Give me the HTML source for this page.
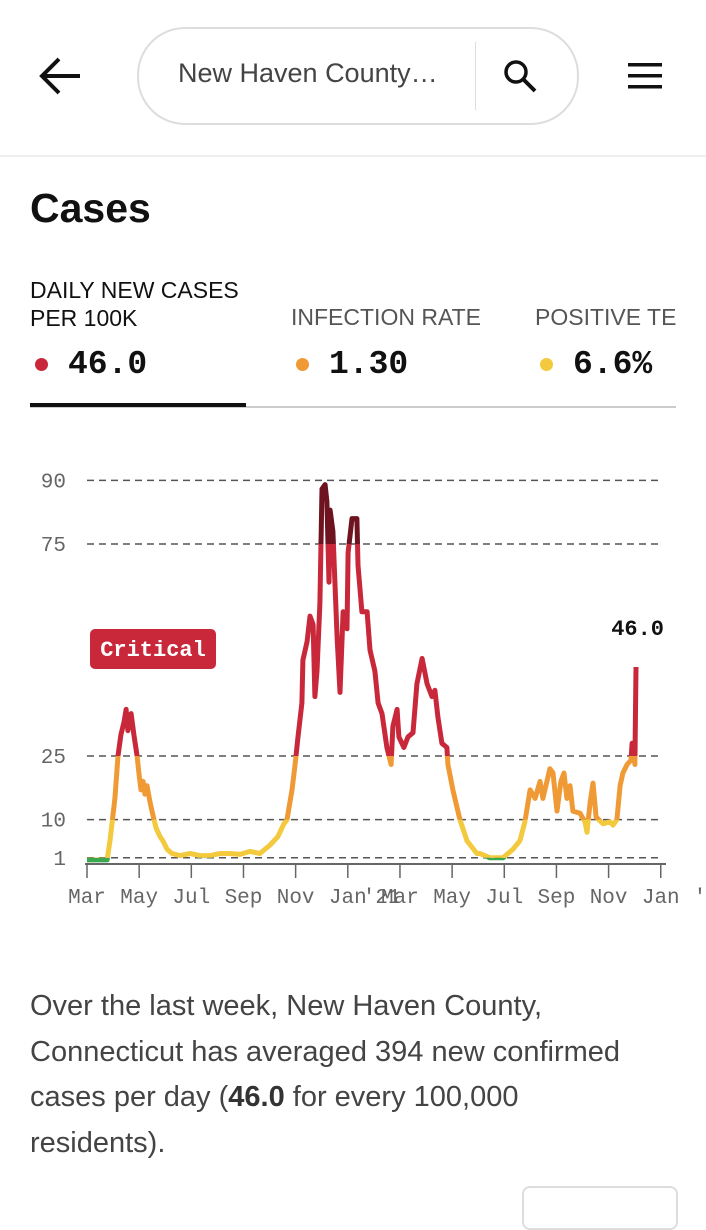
<!DOCTYPE html>
<html><head><meta charset="utf-8">
<style>
body{margin:0;width:706px;height:1200px;background:#fff;position:relative;overflow:hidden;font-family:"Liberation Sans",sans-serif;}
.a{position:absolute;white-space:nowrap;}
.lbl{font-size:23px;color:#111;}
.val{font-family:"Liberation Mono",monospace;font-weight:bold;font-size:33px;color:#111;}
.dot{position:absolute;width:13px;height:13px;border-radius:50%;}
.p{font-size:29px;color:#444;}
</style></head><body>
<div class="a" style="left:0;top:0;width:706px;height:155px;border-bottom:2px solid #eee;"></div>
<svg class="a" style="left:38px;top:56px" width="44" height="40" viewBox="0 0 44 40"><path d="M42 20H5M21 3L4 20L21 37" stroke="#111" stroke-width="4" fill="none"/></svg>
<div class="a" style="left:137px;top:27px;width:438px;height:94px;border:2px solid #ddd;border-radius:48px;"></div>
<div class="a" style="left:178px;top:58px;font-size:27px;color:#444;">New Haven County…</div>
<div class="a" style="left:475px;top:42px;width:1px;height:68px;background:#ddd;"></div>
<svg class="a" style="left:502px;top:58px" width="36" height="36" viewBox="0 0 36 36"><circle cx="14" cy="14" r="10" stroke="#111" stroke-width="3.5" fill="none"/><path d="M21 21L33 33" stroke="#111" stroke-width="4"/></svg>
<svg class="a" style="left:628px;top:63px" width="36" height="26"><rect y="0" width="34" height="3.5" fill="#111"/><rect y="11" width="34" height="3.5" fill="#111"/><rect y="22" width="34" height="3.5" fill="#111"/></svg>
<div class="a" style="left:30px;top:185px;font-size:41px;font-weight:bold;color:#111;">Cases</div>

<div class="a" style="left:30px;top:276px;width:216px;height:128px;">
<div class="a lbl" style="left:0;top:0;line-height:28px;">DAILY NEW CASES<br>PER 100K</div>
<div class="dot" style="left:5px;top:82px;background:#c8283a"></div>
<div class="a val" style="left:38px;top:70px;">46.0</div></div>
<div class="a" style="left:291px;top:276px;width:230px;height:128px;">
<div class="a lbl" style="left:0;top:28px;color:#555;">INFECTION RATE</div>
<div class="dot" style="left:5px;top:82px;background:#f09a36"></div>
<div class="a val" style="left:38px;top:70px;">1.30</div></div>
<div class="a" style="left:535px;top:276px;width:141px;height:128px;overflow:hidden;">
<div class="a lbl" style="left:0;top:28px;color:#555;">POSITIVE TESTS</div>
<div class="dot" style="left:5px;top:82px;background:#f3c93d"></div>
<div class="a val" style="left:38px;top:70px;">6.6%</div></div>
<div class="a" style="left:30px;top:406px;width:646px;height:2px;background:#ccc;"></div>
<div class="a" style="left:30px;top:403px;width:216px;height:4px;background:#111;"></div>

<svg class="a" id="chart" style="left:0;top:440px" width="706" height="480"></svg>

<div class="a p" style="left:30px;top:984px;line-height:45.5px;">Over the last week, New Haven County,<br>Connecticut has averaged 394 new confirmed<br>cases per day (<b style="color:#333">46.0</b> for every 100,000<br>residents).</div>
<div class="a" style="left:522px;top:1186px;width:152px;height:40px;border:2px solid #ddd;border-radius:8px;"></div>

<script>
const months=[0,0.77,0.88,1.07,1.19,1.30,1.42,1.50,1.57,1.69,1.80,1.92,1.99,2.07,2.15,2.22,2.30,2.42,2.53,2.65,2.80,2.91,3.07,3.26,3.57,3.95,4.33,4.72,5.10,5.48,5.87,6.25,6.63,7.02,7.32,7.55,
7.67,7.86,7.98,8.09,8.24,8.28,8.44,8.55,8.67,8.74,8.82,8.93,9.01,9.13,9.20,9.28,9.32,9.43,9.59,9.70,9.82,9.97,10.01,10.16,10.35,10.39,10.54,10.74,10.85,11.04,11.16,11.31,11.50,11.66,11.73,11.89,11.96,12.15,12.31,12.50,12.65,12.85,13.04,13.23,13.34,13.46,13.61,13.80,13.84,14.03,14.30,14.57,14.95,15.07,15.45,15.95,16.33,16.60,16.79,16.99,17.18,17.37,17.48,17.75,17.87,18.02,18.17,18.29,18.40,18.52,18.63,18.90,19.09,19.17,19.29,19.40,19.52,19.79,20.05,20.17,20.32,20.44,20.55,20.71,20.86,20.90,21.01,21.05];
const values=[0.5,0.5,5,15,25,30,33,36,31,35,30,25,21,17,19,16,18,14,11,8,6,5,3,2,1.5,2,1.5,1.5,2,2,1.8,2.5,2,4,6,9,
10,17,23,29.5,37.5,47.6,52,58,56,39,45,61,88,89,85,66,83,78,53,40,59,55,73,81,81,70,59,59,50,45,37.5,35,27,23,32,36,29.5,27,29.5,30.5,42,48,42,39,40.5,34,28,27,23,17,10,5,2,2,1,1,3,5,9.5,17,15,19,15,22,21,12,19,21,15,18,12,11.5,9.5,7,14,18.6,10.6,9,9.5,8.7,10,18,21,23,24,28,23,46];
const yTicks=[1,10,25,75,90];
const xLabels=["Mar","May","Jul","Sep","Nov","Jan","'21","Mar","May","Jul","Sep","Nov","Jan","'"];
const labelMonths=[0,2,4,6,8,10,11.3,12,14,16,18,20,22,23.5];
const bands=[[0,1,"#3aa84e"],[1,10,"#f3c93d"],[10,25,"#f09a36"],[25,75,"#c8283a"],[75,200,"#6e1420"]];
const NS="http://www.w3.org/2000/svg",svg=document.getElementById('chart');
const X=m=>87+m*26.08, Y=v=>422-v*4.24;
function mk(t,a){const e=document.createElementNS(NS,t);for(const k in a)e.setAttribute(k,a[k]);svg.appendChild(e);return e;}
yTicks.forEach(t=>{
 const g=mk('line',{x1:87,x2:662,y1:Y(t),y2:Y(t),stroke:'#555','stroke-width':1.5,'stroke-dasharray':'7,5'});
 
 
 const l=mk('text',{x:66,y:Y(t)+7,'text-anchor':'end','font-family':'Liberation Mono,monospace','font-size':21,fill:'#666'});
 l.textContent=t;
 
 
});
const ax=mk('line',{x1:85,x2:666,y1:Y(0)+2,y2:Y(0)+2,stroke:'#666','stroke-width':2});


for(let i=0;i<12;i++){
 const x=X(i*2);
 const tk=mk('line',{x1:x,x2:x,y1:Y(0)+2,y2:Y(0)+16,stroke:'#666','stroke-width':1.5});
 
 
}
xLabels.forEach((s,i)=>{
 const t=mk('text',{x:X(labelMonths[i]),y:Y(0)+41,'text-anchor':'middle','font-family':'Liberation Mono,monospace','font-size':21,fill:'#666'});
 t.textContent=s;
 
 
});
const defs=mk('defs',{});
const d=months.map((m,i)=>(i?'L':'M')+X(m).toFixed(1)+' '+Y(values[i]).toFixed(1)).join(' ');
bands.forEach((b,i)=>{
 const cp=document.createElementNS(NS,'clipPath');cp.setAttribute('id','c'+i);
 const r=document.createElementNS(NS,'rect');
 r.setAttribute('x',0);r.setAttribute('width',706);
 r.setAttribute('y',Y(b[1]));r.setAttribute('height',Y(b[0])-Y(b[1])+(i==0?10:0));
 cp.appendChild(r);defs.appendChild(cp);
 const p=mk('path',{d:d,fill:'none',stroke:b[2],'stroke-width':5,'stroke-linejoin':'round','clip-path':'url(#c'+i+')'});
 
 
});
const last=values[values.length-1];
const lv=mk('text',{x:664,y:Y(last)-32,'text-anchor':'end','font-family':'Liberation Mono,monospace','font-weight':'bold','font-size':22,fill:'#111'});
lv.textContent=last.toFixed(1);


const br=mk('rect',{x:90,y:189,width:126,height:40,rx:5,fill:'#c8283a'});


const bt=mk('text',{x:153,y:216,'text-anchor':'middle','font-family':'Liberation Mono,monospace','font-weight':'bold','font-size':22,fill:'#fff'});
bt.textContent='Critical';


</script>
</body></html>
